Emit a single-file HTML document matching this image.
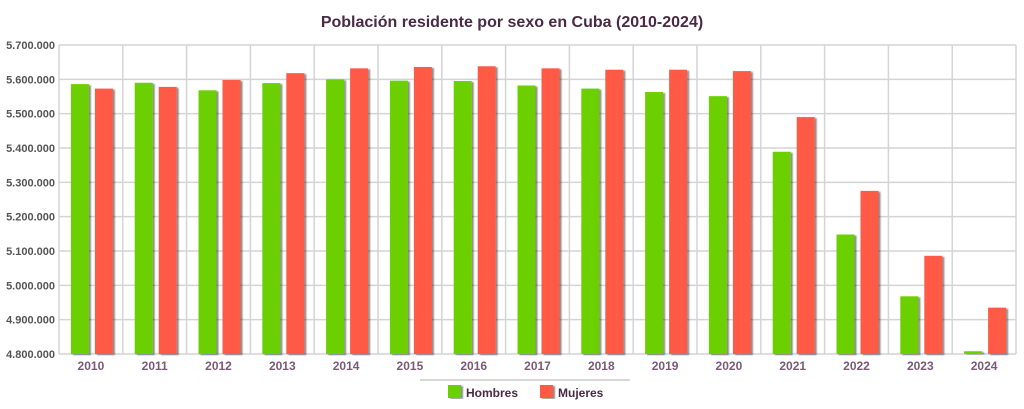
<!DOCTYPE html>
<html><head><meta charset="utf-8"><style>
html,body{margin:0;padding:0;background:#fff;}
svg{display:block;font-family:"Liberation Sans",sans-serif;}
</style></head><body>
<svg id="chart" width="1024" height="409">
<defs><filter id="sh" x="-20%" y="-5%" width="150%" height="110%"><feDropShadow dx="2" dy="1" stdDeviation="0.8" flood-color="#000" flood-opacity="0.45"/></filter></defs>
<text x="512" y="27" text-anchor="middle" font-size="16" font-weight="bold" fill="#4a2a45">Población residente por sexo en Cuba (2010-2024)</text>
<g id="grid"></g><g id="bars"></g><g id="xlabels"></g><g id="ylabels"></g>
<line x1="420" y1="380" x2="630" y2="380" stroke="#ccc" stroke-width="1.5"/>
<g><rect x="448" y="385" width="13" height="13" fill="#6ccf00" filter="url(#sh)"/><text x="466" y="397" font-size="12" font-weight="bold" fill="#4a2a45">Hombres</text></g>
<g><rect x="540" y="385" width="13" height="13" fill="#ff5a45" filter="url(#sh)"/><text x="558" y="397" font-size="12" font-weight="bold" fill="#4a2a45">Mujeres</text></g>
</svg>
<script>
const years=["2010","2011","2012","2013","2014","2015","2016","2017","2018","2019","2020","2021","2022","2023","2024"];
const hombres=[5586000,5590000,5568000,5589000,5600000,5596000,5595000,5582000,5573000,5563000,5551000,5389000,5148000,4968000,4808000];
const mujeres=[5573000,5578000,5598000,5618000,5632000,5636000,5638000,5632000,5628000,5628000,5624000,5490000,5275000,5086000,4935000];
const yTicks=[4800000,4900000,5000000,5100000,5200000,5300000,5400000,5500000,5600000,5700000];
const yTickLabels=["4.800.000","4.900.000","5.000.000","5.100.000","5.200.000","5.300.000","5.400.000","5.500.000","5.600.000","5.700.000"];
const NS="http://www.w3.org/2000/svg";
const L=59,R=1016,T=45,B=354,yMin=4800000,yMax=5700000;
const cw=(R-L)/years.length;
const y=v=>B-(v-yMin)/(yMax-yMin)*(B-T);
const xc=i=>L+cw*(i+0.5);
function mk(tag,attrs,parent){const e=document.createElementNS(NS,tag);for(const k in attrs)e.setAttribute(k,attrs[k]);parent.appendChild(e);return e;}
const grid=document.getElementById('grid'),bars=document.getElementById('bars'),xl=document.getElementById('xlabels'),yl=document.getElementById('ylabels');
yTicks.forEach((t,i)=>{
 const ln=mk('line',{x1:L,x2:R,y1:y(t),y2:y(t),stroke:'#d4d4d4','stroke-width':1.5},grid);
 
 
 const tx=mk('text',{x:L-4,y:y(t)+4,'text-anchor':'end','font-size':11,'font-weight':'bold',fill:'#555'},yl);
 tx.textContent=yTickLabels[i];
 
 
});
for(let i=0;i<=years.length;i++){
 const ln=mk('line',{x1:L+cw*i,x2:L+cw*i,y1:T,y2:B,stroke:'#d4d4d4','stroke-width':1.5},grid);
 
 
}
years.forEach((yr,i)=>{
 const c=xc(i);
 const g=mk('rect',{x:c-20,y:y(hombres[i]),width:18,height:B-y(hombres[i]),fill:'#6ccf00',filter:'url(#sh)'},bars);
 
 
 const r=mk('rect',{x:c+4,y:y(mujeres[i]),width:18,height:B-y(mujeres[i]),fill:'#ff5a45',filter:'url(#sh)'},bars);
 
 
 const tx=mk('text',{x:c,y:370,'text-anchor':'middle','font-size':12,'font-weight':'bold',fill:'#7a5a78'},xl);
 tx.textContent=yr;
 
 
});
</script>
</body></html>
